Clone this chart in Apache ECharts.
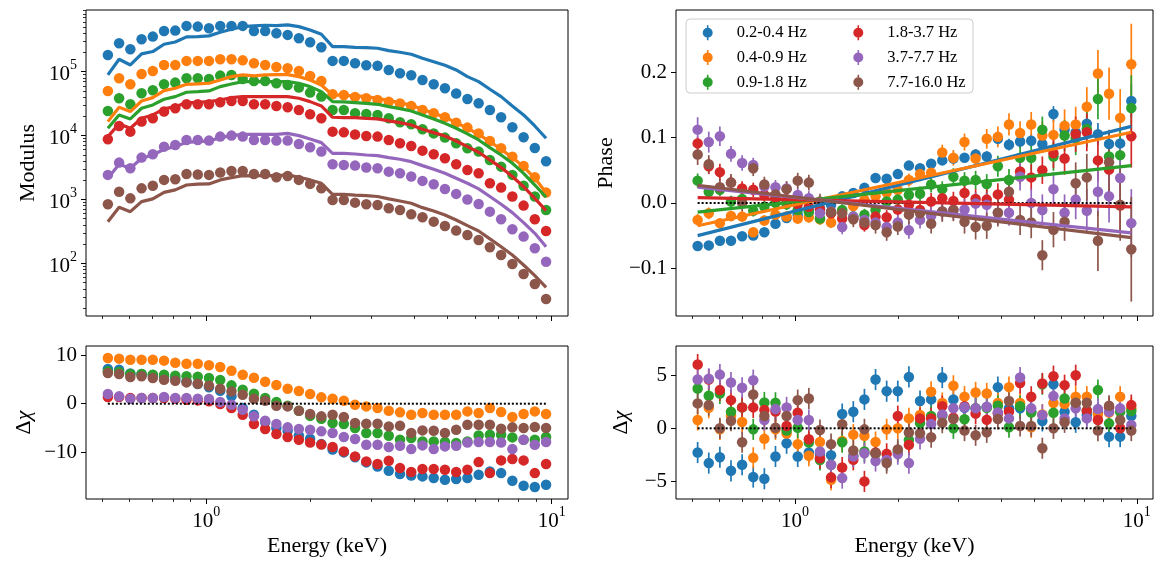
<!DOCTYPE html>
<html><head><meta charset="utf-8">
<script src="https://cdn.jsdelivr.net/npm/echarts@6/dist/echarts.min.js"></script>
<style>html,body{margin:0;padding:0;background:#fff}#c{width:1168px;height:569px}</style>
</head><body><div id="c"></div>
<script>
// ---------------- data ----------------
const energy = [0.5191, 0.5595, 0.6030, 0.6499, 0.7004, 0.7549, 0.8136, 0.8769, 0.9451, 1.0186, 1.0978, 1.1832, 1.2752, 1.3743, 1.4812, 1.5964, 1.7206, 1.8544, 1.9986, 2.1540, 2.3216, 2.5021, 2.6967, 2.9064, 3.1325, 3.3761, 3.6386, 3.9216, 4.2266, 4.5553, 4.9096, 5.2914, 5.7029, 6.1464, 6.6244, 7.1396, 7.6948, 8.2933, 8.9382, 9.6334];
const bandNames = ['0.2-0.4 Hz', '0.4-0.9 Hz', '0.9-1.8 Hz', '1.8-3.7 Hz', '3.7-7.7 Hz', '7.7-16.0 Hz'];

// Modulus: data points and model curves
const modBluePts = [1.82e5, 2.78e5, 2.24e5, 3.21e5, 3.53e5, 4.33e5, 4.38e5, 5.19e5, 5.06e5, 4.77e5, 5.19e5, 5.19e5, 5.19e5, 4.33e5, 4.33e5, 3.98e5, 3.75e5, 3.33e5, 2.88e5, 2.40e5, 1.47e5, 1.47e5, 1.35e5, 1.26e5, 1.23e5, 1.06e5, 9.42e4, 8.76e4, 7.41e4, 6.33e4, 5.48e4, 4.53e4, 3.73e4, 3.19e4, 2.51e4, 1.93e4, 1.35e4, 9.38e3, 6.38e3, 3.95e3];
const modBlueModel = [8.87e4, 1.56e5, 1.27e5, 1.89e5, 2.06e5, 2.68e5, 2.91e5, 3.49e5, 3.53e5, 3.62e5, 4.13e5, 4.60e5, 5.06e5, 5.19e5, 5.31e5, 5.25e5, 5.37e5, 5.06e5, 4.49e5, 3.84e5, 2.46e5, 2.46e5, 2.40e5, 2.38e5, 2.32e5, 2.13e5, 2.01e5, 1.87e5, 1.62e5, 1.43e5, 1.26e5, 1.06e5, 8.35e4, 6.97e4, 5.29e4, 4.06e4, 2.90e4, 2.10e4, 1.41e4, 9.05e3];
const modOrangePts = [4.98e4, 7.87e4, 6.33e4, 9.19e4, 1.02e5, 1.27e5, 1.27e5, 1.47e5, 1.47e5, 1.47e5, 1.56e5, 1.56e5, 1.50e5, 1.35e5, 1.27e5, 1.18e5, 1.13e5, 1.02e5, 8.56e4, 7.14e4, 4.42e4, 4.31e4, 4.02e4, 3.83e4, 3.60e4, 3.39e4, 3.16e4, 2.90e4, 2.51e4, 2.23e4, 1.93e4, 1.59e4, 1.33e4, 1.08e4, 8.22e3, 6.31e3, 4.67e3, 3.34e3, 2.22e3, 1.28e3];
const modOrangeModel = [1.65e4, 2.77e4, 2.37e4, 3.47e4, 3.92e4, 5.04e4, 5.48e4, 6.33e4, 6.41e4, 6.57e4, 7.41e4, 8.35e4, 8.87e4, 8.56e4, 8.87e4, 8.97e4, 8.97e4, 8.35e4, 7.41e4, 6.18e4, 4.31e4, 4.26e4, 4.16e4, 4.06e4, 3.83e4, 3.52e4, 3.27e4, 2.97e4, 2.57e4, 2.23e4, 1.93e4, 1.59e4, 1.30e4, 1.04e4, 8.02e3, 6.09e3, 4.51e3, 3.26e3, 2.14e3, 1.28e3];
const modGreenPts = [2.42e4, 3.83e4, 3.08e4, 4.58e4, 5.10e4, 6.33e4, 6.73e4, 7.87e4, 7.87e4, 7.68e4, 8.66e4, 8.87e4, 7.68e4, 7.14e4, 7.14e4, 6.57e4, 6.18e4, 5.62e4, 4.69e4, 4.06e4, 2.51e4, 2.51e4, 2.23e4, 2.18e4, 2.10e4, 1.86e4, 1.61e4, 1.50e4, 1.25e4, 1.08e4, 9.27e3, 7.55e3, 6.31e3, 5.60e3, 4.15e3, 3.26e3, 2.42e3, 1.64e3, 1.11e3, 6.84e2];
const modGreenModel = [1.30e4, 2.10e4, 1.82e4, 2.67e4, 3.01e4, 3.69e4, 4.06e4, 4.75e4, 4.86e4, 4.98e4, 5.82e4, 6.41e4, 6.97e4, 6.97e4, 6.97e4, 6.97e4, 6.97e4, 6.57e4, 5.82e4, 4.86e4, 3.39e4, 3.35e4, 3.27e4, 3.19e4, 3.08e4, 2.83e4, 2.64e4, 2.42e4, 2.10e4, 1.82e4, 1.55e4, 1.30e4, 1.06e4, 8.52e3, 6.47e3, 4.96e3, 3.68e3, 2.56e3, 1.68e3, 1.08e3];
const modRedPts = [8.73e3, 1.41e4, 1.15e4, 1.65e4, 1.86e4, 2.37e4, 2.67e4, 3.08e4, 3.08e4, 3.08e4, 3.31e4, 3.47e4, 3.47e4, 3.08e4, 3.08e4, 2.90e4, 2.77e4, 2.51e4, 2.15e4, 1.86e4, 1.15e4, 1.12e4, 1.04e4, 9.85e3, 9.62e3, 8.52e3, 7.55e3, 6.87e3, 5.80e3, 5.08e3, 4.40e3, 3.55e3, 2.89e3, 2.56e3, 1.79e3, 1.53e3, 1.11e3, 8.00e2, 4.89e2, 3.21e2];
const modRedModel = [9.62e3, 1.52e4, 1.30e4, 1.86e4, 2.10e4, 2.61e4, 2.83e4, 3.27e4, 3.31e4, 3.39e4, 3.60e4, 3.92e4, 4.06e4, 4.06e4, 4.06e4, 4.06e4, 4.06e4, 3.83e4, 3.39e4, 2.90e4, 1.93e4, 1.91e4, 1.91e4, 1.86e4, 1.82e4, 1.69e4, 1.59e4, 1.46e4, 1.25e4, 1.11e4, 9.85e3, 8.22e3, 6.70e3, 5.47e3, 4.15e3, 3.15e3, 2.28e3, 1.58e3, 1.04e3, 6.68e2];
const modPurplePts = [2.42e3, 3.77e3, 3.07e3, 4.51e3, 5.08e3, 6.70e3, 7.12e3, 8.52e3, 8.52e3, 8.32e3, 9.62e3, 9.96e3, 9.62e3, 8.52e3, 8.52e3, 8.32e3, 8.32e3, 7.38e3, 6.55e3, 5.60e3, 3.55e3, 3.46e3, 3.38e3, 3.15e3, 3.07e3, 2.72e3, 2.56e3, 2.28e3, 1.95e3, 1.73e3, 1.46e3, 1.22e3, 1.00e3, 8.49e2, 6.44e2, 4.89e2, 3.41e2, 2.62e2, 1.72e2, 1.06e2];
const modPurpleModel = [2.14e3, 3.55e3, 3.07e3, 4.40e3, 4.96e3, 6.09e3, 6.70e3, 7.83e3, 8.02e3, 8.22e3, 9.27e3, 9.96e3, 1.04e4, 1.04e4, 1.04e4, 1.04e4, 1.08e4, 9.96e3, 8.83e3, 7.74e3, 5.27e3, 5.27e3, 5.14e3, 4.96e3, 4.84e3, 4.51e3, 4.25e3, 3.90e3, 3.38e3, 2.96e3, 2.56e3, 2.14e3, 1.79e3, 1.46e3, 1.11e3, 8.39e2, 6.21e2, 4.34e2, 2.95e2, 1.82e2];
const modBrownPts = [8.39e2, 1.32e3, 1.04e3, 1.49e3, 1.64e3, 2.02e3, 2.07e3, 2.50e3, 2.45e3, 2.42e3, 2.63e3, 2.79e3, 2.79e3, 2.50e3, 2.50e3, 2.22e3, 2.33e3, 2.02e3, 1.75e3, 1.49e3, 9.80e2, 9.80e2, 8.91e2, 8.39e2, 8.19e2, 7.26e2, 6.84e2, 5.85e2, 5.25e2, 4.49e2, 3.84e2, 3.25e2, 2.78e2, 2.32e2, 1.78e2, 1.35e2, 9.77e1, 6.82e1, 4.75e1, 2.77e1];
const modBrownModel = [4.49e2, 7.53e2, 6.44e2, 9.24e2, 1.02e3, 1.29e3, 1.41e3, 1.68e3, 1.73e3, 1.75e3, 2.02e3, 2.19e3, 2.36e3, 2.33e3, 2.36e3, 2.36e3, 2.42e3, 2.22e3, 2.02e3, 1.79e3, 1.20e3, 1.20e3, 1.17e3, 1.15e3, 1.11e3, 1.02e3, 9.46e2, 8.70e2, 7.44e2, 6.60e2, 5.71e2, 4.77e2, 3.89e2, 3.21e2, 2.41e2, 1.82e2, 1.35e2, 9.43e1, 6.42e1, 4.22e1];

// Phase: data points, 1-sigma errors, and linear model (endpoints)
const phaseBlue = [-0.066, -0.065, -0.058, -0.058, -0.051, -0.050, -0.045, -0.032, -0.023, -0.018, -0.012, -0.008, -0.003, 0.010, 0.015, 0.023, 0.038, 0.037, 0.044, 0.057, 0.053, 0.060, 0.065, 0.068, 0.069, 0.074, 0.071, 0.098, 0.089, 0.094, 0.095, 0.090, 0.136, 0.112, 0.108, 0.121, 0.105, 0.090, 0.091, 0.156];
const phaseOrange = [-0.026, -0.016, -0.031, -0.020, -0.021, -0.045, -0.027, -0.018, -0.021, -0.024, -0.022, -0.025, -0.030, -0.012, -0.005, 0.005, 0.010, 0.016, 0.020, 0.035, 0.044, 0.046, 0.077, 0.069, 0.093, 0.068, 0.098, 0.101, 0.120, 0.107, 0.120, 0.103, 0.104, 0.118, 0.120, 0.147, 0.198, 0.167, 0.130, 0.212];
const phaseGreen = [0.034, 0.017, 0.020, 0.002, 0.006, -0.012, -0.006, 0.000, -0.002, -0.011, -0.014, -0.024, -0.015, -0.011, -0.021, -0.018, -0.011, 0.002, 0.005, 0.012, 0.014, 0.028, 0.021, 0.040, 0.034, 0.035, 0.029, 0.056, 0.035, 0.069, 0.069, 0.112, 0.071, 0.103, 0.099, 0.113, 0.159, 0.071, 0.073, 0.145];
const phaseRed = [0.091, 0.056, 0.047, 0.031, 0.022, 0.020, 0.012, 0.008, 0.005, -0.002, -0.006, -0.010, -0.016, -0.024, -0.023, -0.034, -0.021, -0.022, -0.010, -0.003, -0.011, 0.002, 0.007, 0.003, 0.015, 0.006, 0.005, 0.013, 0.005, 0.048, 0.039, 0.050, 0.076, 0.068, 0.105, 0.108, 0.065, 0.051, -0.004, 0.102];
const phasePurple = [0.112, 0.093, 0.102, 0.075, 0.061, 0.058, 0.025, 0.024, 0.022, 0.012, 0.007, -0.016, -0.013, -0.037, -0.021, -0.026, -0.030, -0.037, -0.030, -0.042, -0.026, -0.020, -0.013, -0.011, -0.010, -0.001, -0.003, -0.015, -0.015, 0.040, 0.000, -0.011, 0.021, -0.015, 0.005, -0.012, 0.017, 0.010, 0.038, -0.031];
const phaseBrown = [0.074, 0.059, 0.024, 0.031, 0.000, 0.053, 0.028, 0.013, 0.021, 0.034, 0.031, 0.002, -0.014, -0.016, -0.025, -0.030, -0.034, -0.045, -0.036, -0.018, -0.016, -0.032, -0.013, -0.011, -0.029, -0.037, -0.035, -0.015, 0.017, -0.026, -0.030, -0.080, -0.041, -0.029, 0.030, 0.039, -0.058, 0.062, -0.003, -0.071];

const phaseErrBlue = [0.006, 0.006, 0.006, 0.005, 0.005, 0.005, 0.005, 0.005, 0.005, 0.005, 0.005, 0.005, 0.005, 0.005, 0.005, 0.005, 0.005, 0.005, 0.006, 0.006, 0.006, 0.006, 0.007, 0.007, 0.007, 0.008, 0.008, 0.009, 0.009, 0.010, 0.010, 0.011, 0.012, 0.013, 0.014, 0.015, 0.017, 0.019, 0.021, 0.025];
const phaseErrOrange = [0.009, 0.009, 0.008, 0.008, 0.008, 0.008, 0.008, 0.008, 0.008, 0.008, 0.008, 0.008, 0.008, 0.008, 0.008, 0.008, 0.009, 0.009, 0.010, 0.010, 0.011, 0.011, 0.012, 0.012, 0.013, 0.014, 0.015, 0.016, 0.017, 0.018, 0.019, 0.021, 0.023, 0.025, 0.027, 0.030, 0.036, 0.040, 0.044, 0.062];
const phaseErrGreen = [0.011, 0.010, 0.010, 0.009, 0.009, 0.009, 0.009, 0.009, 0.009, 0.009, 0.009, 0.009, 0.009, 0.009, 0.009, 0.009, 0.010, 0.010, 0.010, 0.011, 0.011, 0.012, 0.012, 0.013, 0.013, 0.014, 0.015, 0.016, 0.017, 0.018, 0.019, 0.020, 0.022, 0.024, 0.026, 0.028, 0.031, 0.034, 0.038, 0.050];
const phaseErrRed = [0.010, 0.012, 0.013, 0.011, 0.011, 0.011, 0.010, 0.010, 0.010, 0.010, 0.010, 0.010, 0.010, 0.010, 0.010, 0.010, 0.011, 0.011, 0.011, 0.012, 0.012, 0.013, 0.013, 0.014, 0.014, 0.015, 0.016, 0.017, 0.018, 0.019, 0.020, 0.021, 0.023, 0.025, 0.027, 0.029, 0.032, 0.035, 0.038, 0.048];
const phaseErrPurple = [0.019, 0.016, 0.015, 0.012, 0.012, 0.011, 0.011, 0.011, 0.011, 0.011, 0.011, 0.011, 0.011, 0.011, 0.011, 0.011, 0.012, 0.012, 0.012, 0.013, 0.013, 0.014, 0.014, 0.015, 0.016, 0.017, 0.018, 0.019, 0.020, 0.021, 0.022, 0.024, 0.026, 0.028, 0.030, 0.033, 0.037, 0.040, 0.045, 0.052];
const phaseErrBrown = [0.016, 0.014, 0.013, 0.013, 0.013, 0.012, 0.012, 0.012, 0.012, 0.012, 0.012, 0.012, 0.012, 0.012, 0.012, 0.012, 0.013, 0.013, 0.013, 0.014, 0.014, 0.015, 0.016, 0.017, 0.018, 0.019, 0.020, 0.021, 0.022, 0.023, 0.024, 0.023, 0.027, 0.029, 0.032, 0.036, 0.046, 0.050, 0.055, 0.080];

const phaseModelEnergy = [0.5191, 9.6334];
const phaseModelBlue = [-0.050, 0.117];
const phaseModelOrange = [-0.035, 0.108];
const phaseModelGreen = [-0.014, 0.057];
const phaseModelRed = [0.008, -0.006];
const phaseModelPurple = [0.024, -0.046];
const phaseModelBrown = [0.027, -0.053];

// Residuals (delta chi) for modulus fit (bottom-left) and phase fit (bottom-right)
const chiModBlue = [7.12, 6.99, 6.20, 6.10, 5.90, 5.60, 5.20, 4.60, 4.04, 3.36, 2.67, 1.51, -0.89, -2.26, -3.77, -5.00, -5.55, -6.51, -7.19, -8.30, -9.40, -10.00, -11.00, -12.05, -12.88, -13.77, -14.45, -14.73, -14.93, -15.27, -15.62, -15.48, -15.27, -14.59, -13.90, -14.25, -15.82, -16.85, -17.12, -16.64];
const chiModOrange = [9.38, 9.25, 9.04, 9.04, 9.04, 8.84, 8.42, 8.22, 8.22, 7.88, 7.53, 6.78, 5.96, 5.34, 4.52, 3.84, 3.08, 2.60, 1.99, 1.30, 1.03, 0.62, -0.21, -0.55, -0.89, -1.44, -1.78, -2.26, -1.92, -2.26, -2.26, -2.26, -1.58, -1.92, -0.89, -1.71, -2.74, -2.12, -1.58, -2.12];
const chiModGreen = [6.64, 6.51, 6.10, 6.10, 5.96, 5.96, 5.75, 5.62, 5.55, 5.27, 4.86, 3.77, 2.88, 2.05, 1.16, 0.34, -0.41, -1.44, -2.50, -3.08, -3.97, -4.18, -5.00, -6.03, -6.03, -6.58, -7.40, -7.05, -7.74, -7.74, -7.88, -8.08, -7.74, -6.51, -6.37, -6.37, -6.92, -7.40, -7.40, -6.85];
const chiModRed = [1.37, 1.37, 1.16, 1.16, 1.16, 1.16, 1.03, 0.82, 0.68, 0.48, -0.07, -0.89, -2.26, -4.18, -5.21, -6.23, -6.85, -7.40, -7.95, -8.40, -8.90, -9.79, -10.82, -11.85, -12.40, -11.71, -13.22, -14.04, -13.42, -13.42, -13.56, -14.04, -13.56, -11.99, -14.25, -11.64, -11.37, -11.64, -14.25, -12.40];
const chiModPurple = [1.99, 1.51, 1.03, 1.16, 1.16, 1.37, 1.16, 1.16, 1.03, 0.96, 0.34, -0.21, -1.23, -2.60, -3.49, -4.18, -4.86, -5.21, -5.34, -5.68, -6.03, -6.85, -7.26, -8.42, -8.42, -8.90, -8.63, -9.32, -8.56, -9.32, -8.77, -8.63, -7.95, -7.88, -7.88, -7.95, -9.32, -7.40, -8.42, -7.88];
const chiModBrown = [6.30, 6.10, 5.48, 5.62, 5.27, 4.93, 4.73, 4.38, 4.11, 3.70, 3.08, 2.53, 1.85, 1.03, 0.62, -0.41, -0.55, -1.44, -2.12, -2.60, -2.26, -2.74, -3.97, -4.11, -4.11, -4.66, -4.52, -6.03, -5.48, -5.55, -6.03, -5.34, -4.32, -4.32, -4.32, -5.14, -4.86, -5.00, -4.79, -5.00];

const chiPhaseBlue = [-2.30, -3.30, -2.74, -4.03, -3.46, -4.62, -4.78, -2.67, -1.42, -2.67, -2.30, -2.40, -2.55, 1.35, 1.57, 2.74, 4.62, 3.52, 3.52, 4.87, 2.58, 2.74, 4.81, 2.74, 1.95, 1.89, 2.00, 3.90, 1.90, 1.89, 1.60, 0.70, 4.18, 1.57, 0.57, 1.26, 1.50, -0.79, -0.79, 1.16];
const chiPhaseOrange = [0.79, 1.95, -0.10, 1.20, 0.60, -2.80, -1.00, -0.10, -0.50, -1.50, -2.60, -1.30, -4.87, -1.20, -0.60, -0.70, -1.30, -0.10, 0.00, 0.94, 1.26, 3.46, 2.40, 4.03, 3.00, 3.40, 3.30, 2.40, 3.90, 2.40, 0.10, 1.30, 2.40, 2.30, 3.00, 3.00, 1.30, 1.50, 3.00, 1.90];
const chiPhaseGreen = [3.77, 3.08, 3.30, 1.57, 1.98, -0.10, 2.45, 2.42, -0.20, 0.06, -1.35, -3.00, -3.46, -1.32, -2.61, -2.20, -2.40, -3.00, -2.20, -1.10, 0.50, 1.16, 1.20, 0.00, 0.85, 1.90, 1.95, 2.14, 0.10, 2.10, 1.50, 4.18, 1.48, 2.83, 2.40, 1.70, 3.62, 0.47, 1.57, 1.64];
const chiPhaseRed = [6.04, 4.62, 3.62, 2.67, 1.98, 1.98, 1.73, 1.60, 0.22, 1.48, -1.04, -2.83, -4.65, -3.71, -2.99, -5.03, -2.30, -2.42, 1.16, -1.57, 0.94, 0.94, 2.10, 1.00, 2.10, 1.40, 0.80, 1.40, 1.60, 4.30, 2.99, 4.25, 4.94, 4.09, 5.03, 1.65, 0.79, 2.00, 0.00, 2.20];
const chiPhasePurple = [4.62, 4.69, 5.09, 4.34, 3.84, 4.56, 0.79, 1.82, 1.98, 0.79, 0.79, -2.20, -3.46, -4.72, -2.67, -2.36, -3.10, -3.00, -2.45, -3.30, -1.00, 0.40, 1.30, 1.90, 2.00, 1.89, 2.04, 1.50, 0.94, 4.81, 1.89, 1.26, 3.05, 0.94, 1.89, 0.94, 1.82, 1.57, 1.89, 0.31];
const chiPhaseBrown = [2.36, 2.20, 0.00, 0.72, -1.32, 3.20, 1.16, 0.06, 1.16, 2.67, 2.83, -0.16, -1.50, 0.38, -2.10, -0.10, -2.36, -3.30, -2.00, -0.40, -0.47, -0.85, 0.53, 0.88, -0.22, -0.66, -0.38, 0.88, 2.58, 0.22, 0.22, -1.89, 0.00, 0.57, 2.42, 2.42, -0.22, 2.14, 0.79, -0.22];
const chiErr = 1;

// tick values
const xMajorTicks = [1, 10];
const xMinorTicks = [0.5, 0.6, 0.7, 0.8, 0.9, 2, 3, 4, 5, 6, 7, 8, 9];
const modMajorTicks = [1e2, 1e3, 1e4, 1e5];
const modMinorTicks = [20, 30, 40, 50, 60, 70, 80, 90, 200, 300, 400, 500, 600, 700, 800, 900, 2000, 3000, 4000, 5000, 6000, 7000, 8000, 9000, 20000, 30000, 40000, 50000, 60000, 70000, 80000, 90000, 200000, 300000, 400000, 500000, 600000, 700000, 800000, 900000];
const phaseTicks = [-0.1, 0, 0.1, 0.2];
const chiModTicks = [-10, 0, 10];
const chiPhaseTicks = [-5, 0, 5];

// ---------------- chart ----------------
const FONT = 'Liberation Serif';
const COLORS = ['#1f77b4', '#ff7f0e', '#2ca02c', '#d62728', '#9467bd', '#8c564b'];
const modPts = [modBluePts, modOrangePts, modGreenPts, modRedPts, modPurplePts, modBrownPts];
const modModel = [modBlueModel, modOrangeModel, modGreenModel, modRedModel, modPurpleModel, modBrownModel];
const phasePts = [phaseBlue, phaseOrange, phaseGreen, phaseRed, phasePurple, phaseBrown];
const phaseErr = [phaseErrBlue, phaseErrOrange, phaseErrGreen, phaseErrRed, phaseErrPurple, phaseErrBrown];
const phaseModel = [phaseModelBlue, phaseModelOrange, phaseModelGreen, phaseModelRed, phaseModelPurple, phaseModelBrown];
const chiMod = [chiModBlue, chiModOrange, chiModGreen, chiModRed, chiModPurple, chiModBrown];
const chiPhase = [chiPhaseBlue, chiPhaseOrange, chiPhaseGreen, chiPhaseRed, chiPhasePurple, chiPhaseBrown];

const X_MIN = 0.4487, X_MAX = 11.15;
const GRIDS = [
  { left: 86, top: 10, width: 482, height: 306 },
  { left: 676, top: 10, width: 477, height: 306 },
  { left: 86, top: 346, width: 482, height: 153 },
  { left: 676, top: 346, width: 477, height: 153 }
];
const TXT = { fontFamily: FONT, fontSize: 22, color: '#000' };
const powRich = {
  b: { fontFamily: FONT, fontSize: 21, color: '#000', padding: [6, 0, 0, 0] },
  s: { fontFamily: FONT, fontSize: 14, color: '#000', verticalAlign: 'top' }
};
const powFmt = v => '{b|10}{s|' + Math.round(Math.log10(v)) + '}';
const minus = s => s.replace('-', '\u2212');
const tickLine = { color: '#000', width: 1 };
const minorLine = { color: '#000', width: 0.8 };

function xMain(g, labels) {
  return {
    type: 'log', gridIndex: g, min: X_MIN, max: X_MAX, position: 'bottom',
    axisLine: { show: false, onZero: false }, splitLine: { show: false },
    axisTick: { show: true, customValues: xMajorTicks, length: 5, lineStyle: tickLine },
    axisLabel: { show: labels, customValues: xMajorTicks, formatter: powFmt, rich: powRich, margin: 6 },
    name: labels ? 'Energy (keV)' : '', nameLocation: 'middle', nameGap: 36, nameTextStyle: TXT
  };
}
function xMinor(g) {
  return {
    type: 'log', gridIndex: g, min: X_MIN, max: X_MAX, position: 'top', offset: -GRIDS[g].height,
    axisLine: { show: false, onZero: false }, splitLine: { show: false }, axisLabel: { show: false },
    axisTick: { show: true, inside: true, customValues: xMinorTicks, length: 3, lineStyle: minorLine }
  };
}
function yVal(g, min, max, ticks, fmt, name, gap) {
  return {
    type: 'value', gridIndex: g, min, max, position: 'left',
    axisLine: { show: false, onZero: false }, splitLine: { show: false },
    axisTick: { show: true, customValues: ticks, length: 5, lineStyle: tickLine },
    axisLabel: { customValues: ticks, formatter: fmt, margin: 9, fontFamily: FONT, fontSize: 21, color: '#000' },
    name, nameLocation: 'middle', nameGap: gap, nameTextStyle: Object.assign({}, TXT, {
      rich: { d: { fontFamily: FONT, fontSize: 22, color: '#000' }, c: { fontFamily: FONT, fontSize: 22, fontStyle: 'italic', color: '#000' } }
    })
  };
}

const xAxes = [xMain(0, false), xMain(1, false), xMain(2, true), xMain(3, true), xMinor(0), xMinor(1), xMinor(2), xMinor(3)];
const yAxes = [
  {
    type: 'log', gridIndex: 0, min: 15, max: 9.2e5, position: 'left',
    axisLine: { show: false, onZero: false }, splitLine: { show: false },
    axisTick: { show: true, customValues: modMajorTicks, length: 5, lineStyle: tickLine },
    axisLabel: { customValues: modMajorTicks, formatter: powFmt, rich: powRich, margin: 9 },
    name: 'Modulus', nameLocation: 'middle', nameGap: 47, nameTextStyle: TXT
  },
  yVal(1, -0.173, 0.295, phaseTicks, v => minus(v.toFixed(1)), 'Phase', 59),
  yVal(2, -19.57, 11.85, chiModTicks, v => minus(String(v)), '{d|Δ}{c|χ}', 51),
  yVal(3, -6.70, 7.80, chiPhaseTicks, v => minus(String(v)), '{d|Δ}{c|χ}', 44),
  {
    type: 'log', gridIndex: 0, min: 15, max: 9.2e5, position: 'right', offset: -GRIDS[0].width,
    axisLine: { show: false, onZero: false }, splitLine: { show: false }, axisLabel: { show: false },
    axisTick: { show: true, inside: true, customValues: modMinorTicks, length: 3, lineStyle: minorLine }
  }
];

function errSeries(xi, yi, data, color) {
  return {
    type: 'custom', xAxisIndex: xi, yAxisIndex: yi, data, silent: true, encode: { x: 0, y: 1 },
    renderItem: (params, api) => {
      const x = api.value(0), y = api.value(1), e = api.value(2);
      const a = api.coord([x, y - e]), b = api.coord([x, y + e]);
      return { type: 'line', shape: { x1: a[0], y1: a[1], x2: b[0], y2: b[1] }, style: { stroke: color, lineWidth: 1.7 } };
    }
  };
}
function dotted(xi, yi) {
  return {
    type: 'line', xAxisIndex: xi, yAxisIndex: yi, data: [[energy[0], 0], [energy[energy.length - 1], 0]],
    symbol: 'none', silent: true, lineStyle: { color: '#000', width: 2, type: [2, 2] }
  };
}

const series = [];
// top-left: modulus
for (let k = 0; k < 6; k++) {
  series.push({ type: 'scatter', xAxisIndex: 0, yAxisIndex: 0, silent: true, symbolSize: 10.5,
    itemStyle: { color: COLORS[k], opacity: 1 }, data: energy.map((e, i) => [e, modPts[k][i]]) });
  series.push({ type: 'line', xAxisIndex: 0, yAxisIndex: 0, silent: true, symbol: 'none',
    lineStyle: { color: COLORS[k], width: 3.2 }, data: energy.map((e, i) => [e, modModel[k][i]]) });
}
// top-right: phase
series.push(dotted(1, 1));
for (let k = 0; k < 6; k++) {
  series.push(errSeries(1, 1, energy.map((e, i) => [e, phasePts[k][i], phaseErr[k][i]]), COLORS[k]));
  series.push({ type: 'scatter', name: bandNames[k], xAxisIndex: 1, yAxisIndex: 1, silent: true, symbolSize: 10.5,
    itemStyle: { color: COLORS[k], opacity: 1 }, data: energy.map((e, i) => [e, phasePts[k][i]]) });
  series.push({ type: 'line', xAxisIndex: 1, yAxisIndex: 1, silent: true, symbol: 'none',
    lineStyle: { color: COLORS[k], width: 3.2 }, data: phaseModelEnergy.map((e, i) => [e, phaseModel[k][i]]) });
}
// bottom-left: residuals of modulus
series.push(dotted(2, 2));
for (let k = 0; k < 6; k++) {
  series.push({ type: 'scatter', xAxisIndex: 2, yAxisIndex: 2, silent: true, symbolSize: 10.5,
    itemStyle: { color: COLORS[k], opacity: 1 }, data: energy.map((e, i) => [e, chiMod[k][i]]) });
}
// bottom-right: residuals of phase
series.push(dotted(3, 3));
for (let k = 0; k < 6; k++) {
  series.push(errSeries(3, 3, energy.map((e, i) => [e, chiPhase[k][i], chiErr]), COLORS[k]));
  series.push({ type: 'scatter', xAxisIndex: 3, yAxisIndex: 3, silent: true, symbolSize: 10.5,
    itemStyle: { color: COLORS[k], opacity: 1 }, data: energy.map((e, i) => [e, chiPhase[k][i]]) });
}

const ICON = 'path://M4.2,0 L5.8,0 L5.8,15 L4.2,15 Z M10,7.5 A5,5 0 1 1 0,7.5 A5,5 0 1 1 10,7.5 Z';
function legendCol(names, left) {
  return {
    data: names.map(n => ({ name: n, icon: ICON })), left, top: 24.2, orient: 'vertical',
    itemWidth: 10, itemHeight: 15, itemGap: 7.8, padding: 0, selectedMode: false, z: 5,
    formatter: n => '{g| }' + n,
    textStyle: { fontFamily: FONT, fontSize: 16.5, color: '#000', rich: { g: { width: 19 } } }
  };
}

const chart = echarts.init(document.getElementById('c'), null, { renderer: 'canvas' });
chart.setOption({
  animation: false,
  backgroundColor: '#fff',
  grid: GRIDS.map(g => Object.assign({ show: true, borderColor: '#000', borderWidth: 1, backgroundColor: 'transparent', containLabel: false }, g)),
  xAxis: xAxes,
  yAxis: yAxes,
  legend: [legendCol(bandNames.slice(0, 3), 702.7), legendCol(bandNames.slice(3), 853.3)],
  graphic: [{
    type: 'rect', z: 4, silent: true,
    shape: { x: 686, y: 19, width: 287, height: 74, r: 4 },
    style: { fill: 'rgba(255,255,255,0.8)', stroke: '#cccccc', lineWidth: 1 }
  }],
  series
});
</script>
</body></html>
